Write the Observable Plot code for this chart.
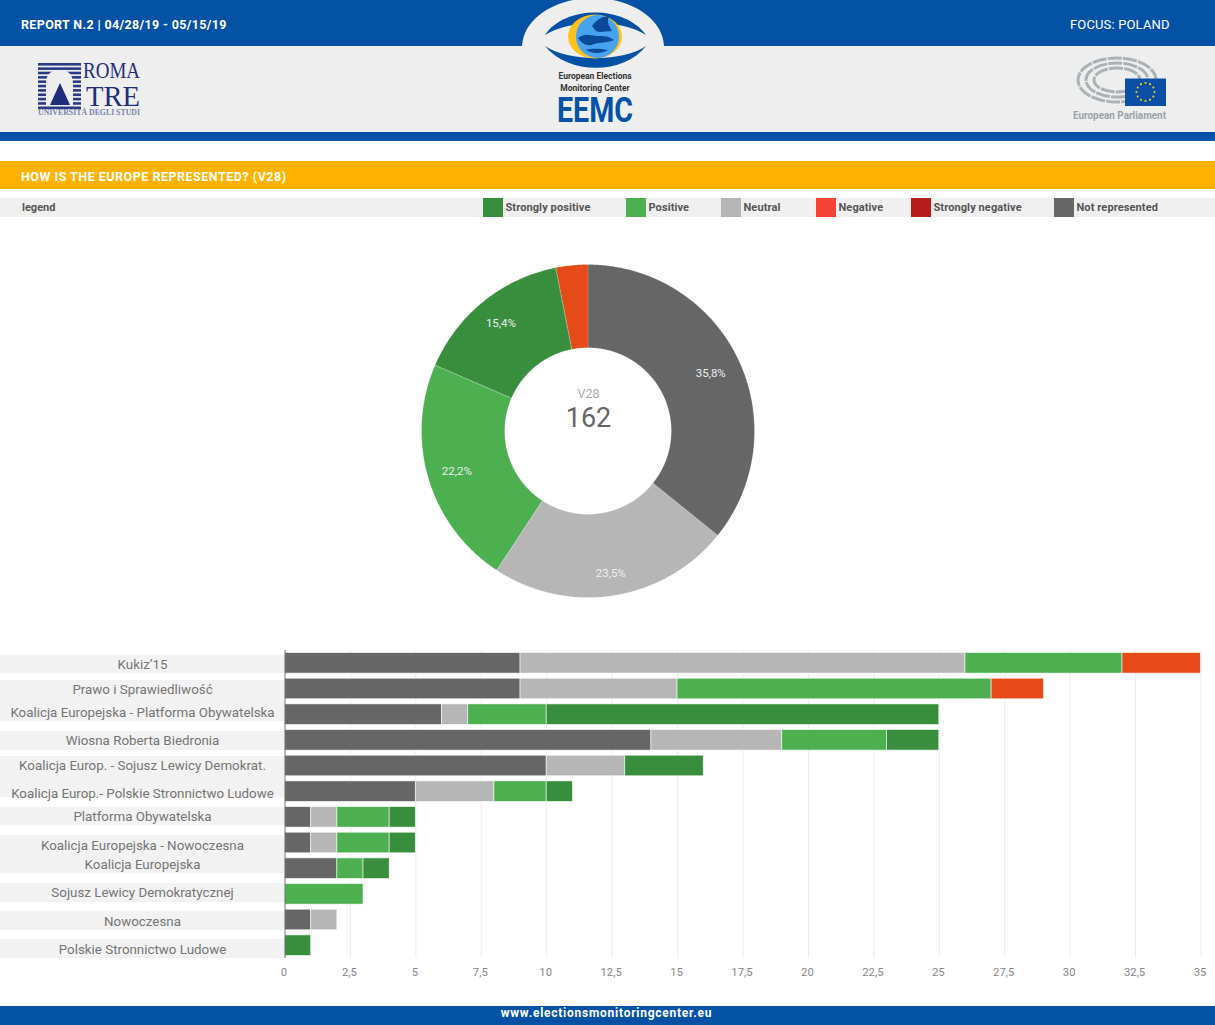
<!DOCTYPE html>
<html><head><meta charset="utf-8">
<script src="https://cdn.jsdelivr.net/npm/d3@7"></script>
<script src="https://cdn.jsdelivr.net/npm/@observablehq/plot@0.6"></script>
<style>
html,body{margin:0;padding:0;background:#fff;}
#page{position:relative;width:1215px;height:1025px;overflow:hidden;font-family:Roboto,sans-serif;}
#page>div,#page>svg{position:absolute;}
.t{white-space:nowrap;line-height:1;}
#slots{width:1215px;height:1025px;}
#slots svg{position:absolute;background:transparent;max-width:none;}
</style></head><body>
<div id="page">
  <div style="left:0;top:0;width:1215px;height:46px;background:#0452a5"></div>
  <div style="left:0;top:46px;width:1215px;height:86px;background:#eeeeee"></div>
  <div style="left:0;top:132px;width:1215px;height:9px;background:#0452a5"></div>
  <div style="left:0;top:161px;width:1215px;height:28px;background:#ffb300"></div>
  <div style="left:0;top:198px;width:1215px;height:19px;background:#efefef"></div>
  <div style="left:0;top:1006px;width:1215px;height:19px;background:#0452a5"></div>
  <div class="t" style="left:21px;top:19px;font-size:12.5px;font-weight:700;color:#fff;letter-spacing:.35px">REPORT N.2 | 04/28/19 - 05/15/19</div>
  <div class="t" style="left:1070px;top:18px;font-size:13px;color:#fff;letter-spacing:.15px">FOCUS: POLAND</div>
  <div class="t" style="left:21px;top:171px;font-size:12.5px;font-weight:700;color:#fff;letter-spacing:.5px">HOW IS THE EUROPE REPRESENTED? (V28)</div>
  <div class="t" style="left:22px;top:202px;font-size:11px;font-weight:700;color:#555">legend</div>
  <div class="t" style="left:0;width:1213px;text-align:center;top:1007px;font-size:12px;font-weight:700;color:#fff;letter-spacing:.75px">www.electionsmonitoringcenter.eu</div>
  <svg id="logos" style="left:0;top:0" width="1215" height="141" viewBox="0 0 1215 141"></svg>
  <div id="legendRow" style="left:0;top:0"></div>
  <div id="bands" style="left:0;top:0"></div>
  <div id="slots" style="left:0;top:0"></div>
</div>
<script>
// Donut data
const sliceNames = ["Not represented", "Neutral", "Positive", "Strongly positive", "Negative"];
const sliceCounts = [58, 38, 36, 25, 5];
const sliceLabels = ["35,8%", "23,5%", "22,2%", "15,4%", ""];
const total = "162";

// Stacked bars
const parties = ["Kukiz’15", "Prawo i Sprawiedliwość", "Koalicja Europejska - Platforma Obywatelska",
  "Wiosna Roberta Biedronia", "Koalicja Europ. - Sojusz Lewicy Demokrat.", "Koalicja Europ.- Polskie Stronnictwo Ludowe",
  "Platforma Obywatelska", "Koalicja Europejska - Nowoczesna", "Koalicja Europejska",
  "Sojusz Lewicy Demokratycznej", "Nowoczesna", "Polskie Stronnictwo Ludowe"];
const notRepresented = [9, 9, 6, 14, 10, 5, 1, 1, 2, 0, 1, 0];
const neutral        = [17, 6, 1, 5, 3, 3, 1, 1, 0, 0, 1, 0];
const positive       = [6, 12, 3, 4, 0, 2, 2, 2, 1, 3, 0, 0];
const stronglyPos    = [0, 0, 15, 2, 3, 1, 1, 1, 1, 0, 0, 1];
const negative       = [3, 2, 0, 0, 0, 0, 0, 0, 0, 0, 0, 0];
const xTicks = [0, 2.5, 5, 7.5, 10, 12.5, 15, 17.5, 20, 22.5, 25, 27.5, 30, 32.5, 35];

// Legend
const legendNames = ["Strongly positive", "Positive", "Neutral", "Negative", "Strongly negative", "Not represented"];
const legendColors = ["#388e3c", "#4caf50", "#b6b6b6", "#f44336", "#b71c1c", "#666666"];
const legendLefts = [483, 626, 721, 816, 911, 1054];

// Chart colours and layout
const chartColors = ["#666666", "#b6b6b6", "#4caf50", "#388e3c", "#e64a19"];
const labelNudges = [1.2, 0.5, -2.2, 0.2, -0.5, 1.8, -0.3, 2.5, -4.2, -1.3, 1.5, 3.8];
const labelBands = [[655,673],[680,721],[731,750],[756,797],[807,825],[835,873],[883,902],[911,930],[939,958]];
const sliceLabelRadius = [135.5, 144, 137.5, 139.5, 0];

const slots = document.getElementById("slots");
const font = "Roboto, sans-serif";

// ---- legend and label bands
document.getElementById("legendRow").innerHTML = legendNames.map((n,i)=>
  `<div style="position:absolute;left:${legendLefts[i]}px;top:198px;width:20px;height:19px;background:${legendColors[i]}"></div>`+
  `<div class="t" style="position:absolute;left:${legendLefts[i]+22.5}px;top:202px;font-size:11px;font-weight:700;color:#555;letter-spacing:.1px">${n}</div>`).join("");
document.getElementById("bands").innerHTML = labelBands.map(([a,b])=>
  `<div style="position:absolute;left:0;width:284px;top:${a}px;height:${b-a}px;background:#f2f2f2"></div>`).join("");

// ---- donut, area marks in a unit x/y scale
const sum = d3.sum(sliceCounts);
let acc = 0;
const ringOuter = 1, ringInner = 0.5;
const ring = [], sliceText = [];
sliceCounts.forEach((c,i)=>{
  const a0 = acc/sum*2*Math.PI, a1 = (acc+c)/sum*2*Math.PI;
  const n = Math.max(2, Math.ceil((a1-a0)/0.01));
  for (let k=0;k<=n;k++){
    const a = a0+(a1-a0)*k/n;
    ring.push({name:sliceNames[i],
      x1:ringInner*Math.sin(a), y1:ringInner*Math.cos(a),
      x2:ringOuter*Math.sin(a), y2:ringOuter*Math.cos(a)});
  }
  const m=(a0+a1)/2, r=sliceLabelRadius[i]/166.5;
  if (sliceLabels[i]) sliceText.push({t:sliceLabels[i],x:r*Math.sin(m),y:r*Math.cos(m)});
  acc+=c;
});
const donut = Plot.plot({
  width:340,height:340,margin:3.5,
  x:{domain:[-1,1],axis:null},y:{domain:[-1,1],axis:null},
  color:{domain:sliceNames,range:chartColors},
  style:{background:"transparent",fontFamily:font},
  marks:[
    Plot.area(ring,{x1:"x1",y1:"y1",x2:"x2",y2:"y2",z:"name",fill:"name",stroke:"#fff",strokeWidth:0.4,strokeOpacity:0.5,curve:"linear"}),
    Plot.text(sliceText,{x:"x",y:"y",text:"t",fill:"#eeeeee",fontSize:11.5}),
    Plot.text(["V28"],{x:()=>0,y:()=>0,dy:-37.5,text:d=>d,fill:"#aaaaaa",fontSize:12.5}),
    Plot.text([total],{x:()=>0,y:()=>0,dy:-13,text:d=>d,fill:"#666666",fontSize:27})
  ]
});
donut.style.left="417.5px"; donut.style.top="261px";
slots.append(donut);

// ---- stacked bars
const rows = [];
[notRepresented,neutral,positive,stronglyPos,negative].forEach((s,j)=>
  s.forEach((v,i)=>{ if(v>0) rows.push({party:parties[i],group:sliceNames[j],value:v}); }));
const bars = Plot.plot({
  width:1215,height:350,marginTop:10,marginBottom:32,marginLeft:284.5,marginRight:14.5,
  x:{domain:[0,35],axis:null},
  y:{domain:parties,paddingInner:0.2,paddingOuter:0.1,round:false,axis:null},
  color:{domain:sliceNames,range:chartColors},
  style:{background:"transparent",fontFamily:font},
  marks:[
    Plot.ruleX(xTicks.slice(1),{stroke:"#ececec",strokeWidth:1}),
    Plot.barX(rows,Plot.stackX({x:"value",y:"party",fill:"group",stroke:"#fff",strokeWidth:0.8,strokeOpacity:0.7})),
    Plot.ruleX([0],{stroke:"#777777",strokeWidth:1}),
    Plot.axisX({ticks:xTicks,tickSize:0,tickPadding:9,anchor:"bottom",label:null,fontSize:11.3,color:"#888888",dx:-1,
      tickFormat:d=>String(d).replace(".",",")}),
    ...parties.map((p,i)=>Plot.text([p],{x:()=>0,y:d=>d,dx:-142.5,dy:labelNudges[i],text:d=>d,fill:"#757575",fontSize:13.35,textAnchor:"middle"}))
  ]
});
bars.style.left="0"; bars.style.top="640px";
slots.append(bars);

// ---- logos, hand-drawn decoration
const stripes = d3.range(63,108,4.35).map(y=>`<rect x="38" y="${y}" width="43" height="2.6" fill="#2a3a86"/>`).join("");
const stars = d3.range(12).map(i=>{const a=i/12*2*Math.PI;return `<circle cx="${1145.5+9*Math.sin(a)}" cy="${92-9*Math.cos(a)}" r="1.1" fill="#d9d33a"/>`}).join("");
document.getElementById("logos").innerHTML = `
  <path d="M522 46 C524 15 560 -2 593 -2 C626 -2 662 15 664 46 Z" fill="#eeeeee"/>
  <path d="M545 35 C565 5 625 5 646 35 C622 19 570 19 545 35 Z" fill="#0452a5"/>
  <path d="M545 46 C568 75 624 75 646 46 C624 62 568 62 545 46 Z" fill="#0452a5"/>
  <ellipse cx="595" cy="36.5" rx="27" ry="22" fill="#ffc21a"/>
  <circle cx="597.5" cy="36.5" r="21.5" fill="#47a3f0"/>
  <g fill="#0b4a99">
    <path d="M592 26 C596 20 604 15 609 17 C606 22 610 27 612 31 C606 31 600 33 596 31 Z"/>
    <path d="M578 38 C584 33 590 35 596 36 C602 36 608 35 614 40 C608 43 600 42 594 44 C588 47 582 44 578 38 Z"/>
    <path d="M586 50 C592 48 600 49 608 50 C602 54 592 54 586 50 Z"/>
  </g>
  <text x="595" y="79" text-anchor="middle" font-family="Roboto" font-weight="700" font-size="8.5" fill="#333">European Elections</text>
  <text x="595" y="91" text-anchor="middle" font-family="Roboto" font-weight="700" font-size="8.5" fill="#333">Monitoring Center</text>
  <text x="557" y="122" textLength="76" lengthAdjust="spacingAndGlyphs" font-family="Roboto" font-weight="700" font-size="35" fill="#0452a5">EEMC</text>
  ${stripes}
  <path d="M46 105 L46 84 C46 73 52 70 59.5 70 C67 70 73 73 73 84 L73 105 Z" fill="#eeeeee"/>
  <path d="M50 105 L60 83 L70 105 Z" fill="#1f2d7b"/>
  <text x="83" y="78" textLength="57" lengthAdjust="spacingAndGlyphs" font-family="Liberation Serif" font-size="23" fill="#1f2d7b">ROMA</text>
  <text x="86" y="106" textLength="54" lengthAdjust="spacingAndGlyphs" font-family="Liberation Serif" font-size="29" fill="#1f2d7b">TRE</text>
  <text x="38" y="115" textLength="102" lengthAdjust="spacingAndGlyphs" font-family="Liberation Serif" font-weight="700" font-size="7.5" fill="#7b84ab">UNIVERSITÀ DEGLI STUDI</text>
  <g fill="none" stroke="#aab2b6" stroke-width="3" stroke-dasharray="14 1.2">
    <ellipse cx="1117" cy="80" rx="39" ry="22"/>
    <ellipse cx="1117" cy="80" rx="31" ry="17"/>
    <ellipse cx="1117" cy="80" rx="23" ry="12"/>
  </g>
  <rect x="1125" y="78.5" width="41" height="27.5" fill="#0d4ea6"/>
  ${stars}
  <text x="1073" y="119" textLength="93" lengthAdjust="spacingAndGlyphs" font-family="Roboto" font-weight="700" font-size="11" fill="#9aa3a8">European Parliament</text>`;
</script>
</body></html>
